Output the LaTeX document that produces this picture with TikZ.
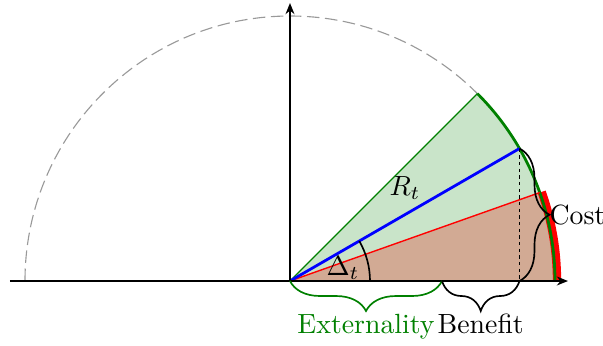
\documentclass[tikz,border=0pt]{standalone}
\usetikzlibrary{arrows.meta,decorations.pathreplacing,calc}
\definecolor{greenfill}{RGB}{201,228,201}
\definecolor{brownfill}{RGB}{210,170,148}
\definecolor{darkgreen}{RGB}{0,128,0}
\begin{document}
\begin{tikzpicture}[x=0.36pt,y=0.36pt,
  axis/.style={line width=0.6pt,-{Stealth[length=4pt,width=3.2pt]}},
  bracedeco/.style={decorate,decoration={brace,amplitude=10.8pt},line width=0.6pt},
  lbl/.style={inner sep=0pt}]
\useasboundingbox (-290,-64) rectangle (313,281);
\def\R{265}
\coordinate (O) at (0,0);
\coordinate (G) at (45:\R);
\coordinate (B) at (30:\R);
\coordinate (Rd) at (19.5:\R);
\coordinate (A) at (0:\R);
\coordinate (Bf) at (B |- O);
\coordinate (E) at (152,0);
\coordinate (xs) at (-280,0);
\coordinate (xe) at (278,0);
\coordinate (ye) at (0,278);
% dashed semicircle
\draw[gray!80,line width=0.4pt,dash pattern=on 4.5pt off 2pt] (180:\R) arc[start angle=180,end angle=0,radius=\R];
% green wedge
\fill[greenfill] (O) -- (A) arc[start angle=0,end angle=45,radius=\R] -- cycle;
% red wedge
\fill[brownfill] (O) -- (A) arc[start angle=0,end angle=19.5,radius=\R] -- cycle;
\draw[red,line width=3pt] (0:\R+2) arc[start angle=0,end angle=19.5,radius=\R+2];
\draw[darkgreen,line width=0.5pt] (O) -- (G);
\draw[darkgreen,line width=1pt] (A) arc[start angle=0,end angle=45,radius=\R];
\draw[red,line width=0.5pt] (O) -- (Rd);
\draw[blue,line width=1pt] (O) -- (B);
\draw[line width=0.5pt,dash pattern=on 1.2pt off 1.2pt] (B) -- (Bf);
% angle
\draw[line width=0.6pt] (80,0) arc[start angle=0,end angle=30,radius=80];
\node[lbl] (delta) at (53,13) {$\Delta_t$};
\node[lbl] (rt) at (115,93) {$R_t$};
% axes
\draw[axis] (xs) -- (xe);
\draw[axis] (O) -- (ye);
% braces
\draw[bracedeco] (B) -- (Bf);
\node[lbl,anchor=west] (cost) at (259,66) {Cost};
\draw[bracedeco,darkgreen] (E) -- (O);
\draw[bracedeco] (Bf) -- (E);
\node[lbl,anchor=base,text=darkgreen] (ext) at ($(O)!0.5!(E)+(0,-52)$) {Externality};
\node[lbl,anchor=base] (ben) at ($(E)!0.5!(Bf)+(0,-52)$) {Benefit};
\end{tikzpicture}
\end{document}
